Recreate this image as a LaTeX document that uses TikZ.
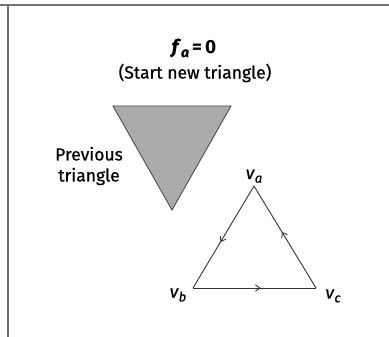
\documentclass[tikz,border=0pt]{standalone}
\usepackage{fontspec}
\setmainfont{Fira Sans}[FakeBold=0.6, BoldFeatures={FakeBold=0}]
\usetikzlibrary{arrows.meta,decorations.markings}
\newcommand{\vlab}[1]{\textit{v}\raisebox{-0.4ex}{\fontsize{13}{13}\selectfont\textit{#1}}}
\begin{document}
\begin{tikzpicture}[x=1pt, y=-1pt, font=\fontsize{17.5}{20}\selectfont,
	edge/.style={draw=black!80, line width=0.9pt,
		postaction={decorate}, decoration={markings,
		mark=at position 0.55 with {\arrow{Straight Barb[length=4.5pt,width=6.5pt]}}}},
	lab/.style={inner sep=0pt}]
	\useasboundingbox (0,0) rectangle (389,337);
	% Rahmen
	\draw[black!55, line width=1.2pt] (0,5) -- (389,5);
	\draw[black!55, line width=1.2pt] (8,5) -- (8,337);

	% Titel
	\node[lab, font=\fontsize{19}{24}\selectfont\bfseries] (titel) at (194,48)
		{\textit{f}\raisebox{-0.4ex}{\fontsize{14}{14}\selectfont\textit{a}}\,=\,0};
	\node[lab] (untertitel) at (195,73) {(Start new triangle)};

	% vorheriges Dreieck
	\filldraw[fill=black!33, draw=black!70, line width=0.9pt]
		(113,106) -- (231,106) -- (172,210) -- cycle;
	\node[lab, align=center, font=\fontsize{17.5}{21}\selectfont] (prev) at (89,166)
		{Previous\\triangle};

	% neues Dreieck
	\coordinate (va) at (254,186);
	\coordinate (vb) at (193,288);
	\coordinate (vc) at (316,288);
	\foreach \a/\b in {va/vb, vb/vc, vc/va}
		\path[edge] (\a) -- (\b);
	\node[lab, above=3pt] (la) at (va) {\vlab{a}};
	\node[lab] (lb) at (178,295) {\vlab{b}};
	\node[lab] (lc) at (333,296) {\vlab{c}};
\end{tikzpicture}
\end{document}
